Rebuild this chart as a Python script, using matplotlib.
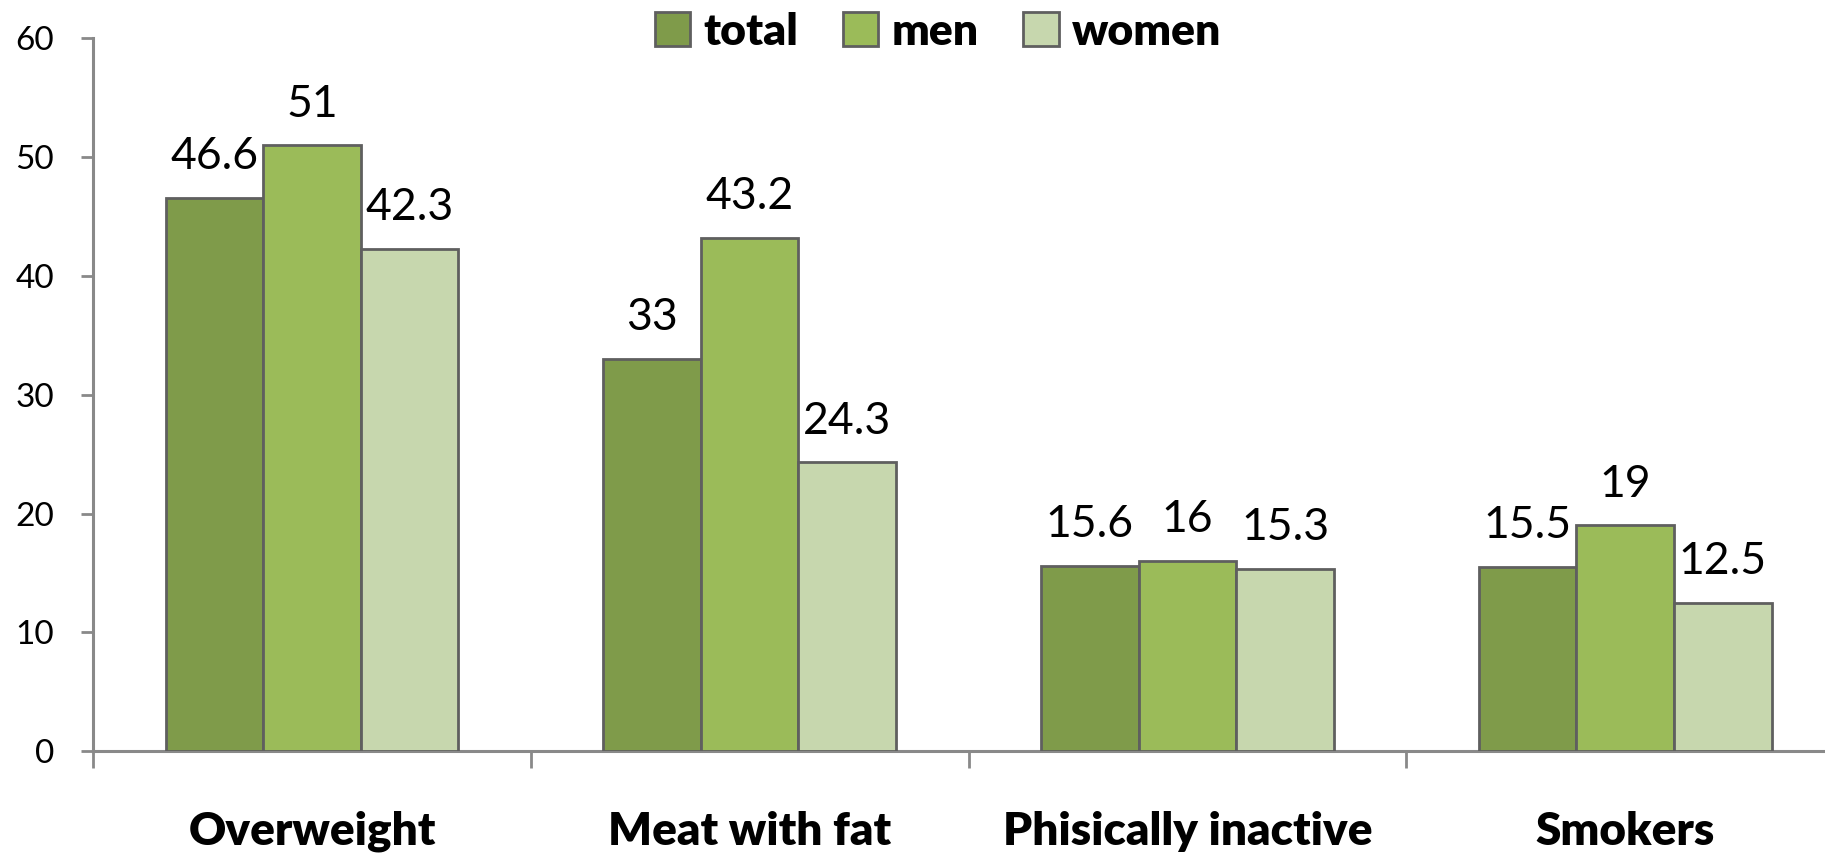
import matplotlib
matplotlib.use('Agg')
import matplotlib.pyplot as plt
from matplotlib.patches import Patch
import numpy as np

plt.rcParams['font.family'] = ['Lato', 'DejaVu Sans']

categories = ['Overweight', 'Meat with fat', 'Phisically inactive', 'Smokers']
series = ['total', 'men', 'women']
total = [46.6, 33, 15.6, 15.5]
men = [51, 43.2, 16, 19]
women = [42.3, 24.3, 15.3, 12.5]
colors = ['#7F9B4A', '#9BBB59', '#C7D7AE']
edge = '#5F5F5F'
axis_col = '#898989'

fig = plt.figure(figsize=(18.25, 8.55), dpi=100)
ax = fig.add_axes([0.051, 0.1216, 0.9594, 0.8334])

x = np.arange(len(categories))
w = 0.223
for i, (vals, c) in enumerate(zip([total, men, women], colors)):
    pos = x + (i - 1) * w
    ax.bar(pos, vals, width=w, color=c, edgecolor=edge, linewidth=2, zorder=3)
    for px, v in zip(pos, vals):
        ax.annotate(f'{v:g}', (px, v), xytext=(0, 15), textcoords='offset points',
                    ha='center', va='bottom', fontsize=32)

ax.set_xlim(-0.5, len(categories) - 0.5)
ax.set_ylim(0, 60)
ax.set_yticks(range(0, 61, 10))

for s in ['top', 'right']:
    ax.spines[s].set_visible(False)
for s in ['left', 'bottom']:
    ax.spines[s].set_color(axis_col)
    ax.spines[s].set_linewidth(2.2)

ax.tick_params(axis='y', direction='out', length=9, width=2, color=axis_col,
               pad=19, labelsize=24)
ax.set_xticks(x)
ax.set_xticklabels(categories, fontsize=33, fontweight='heavy')
ax.set_xticks(np.arange(-0.5, len(categories) + 0.5, 1), minor=True)
ax.tick_params(axis='x', which='major', length=0, pad=43)
ax.tick_params(axis='x', which='minor', direction='out', length=12, width=2,
               color=axis_col)

handles = [Patch(facecolor=c, edgecolor=edge, linewidth=2) for c in colors]
fig.legend(handles, series, loc='center', bbox_to_anchor=(0.514, 0.963), ncol=3,
           frameon=False, prop={'size': 32, 'weight': 'heavy'},
           handlelength=0.8, handleheight=0.8, handletextpad=0.3,
           columnspacing=1.0)

fig.savefig('out.png', dpi=100)
